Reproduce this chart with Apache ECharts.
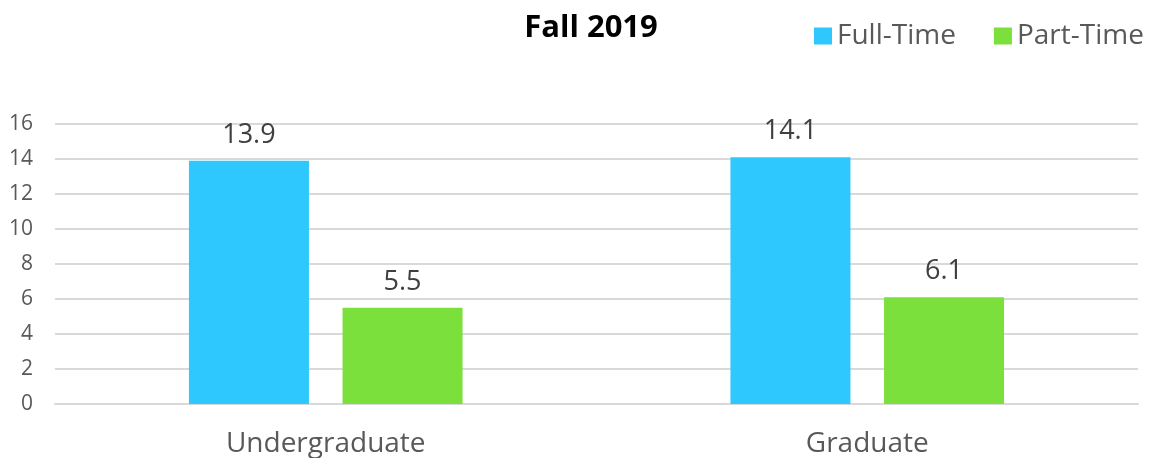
<!DOCTYPE html>
<html>
<head>
<meta charset="utf-8">
<script src="https://cdn.jsdelivr.net/npm/echarts@6/dist/echarts.min.js"></script>
<style>
  html, body { margin: 0; padding: 0; background: #fff; }
  #chart { width: 1152px; height: 458px; }
</style>
</head>
<body>
<div id="chart"></div>
<script>
// data
var categories = ['Undergraduate', 'Graduate']
var fullTime = [13.9, 14.1]
var partTime = [5.5, 6.1]
var yTicks = { min: 0, max: 16, interval: 2 }

var font = '"Open Sans", "Noto Sans", sans-serif'

var chart = echarts.init(document.getElementById('chart'))
chart.setOption({
  color: ['#2ec8fe', '#7bdf3c'],
  textStyle: { fontFamily: font },
  title: {
    text: 'Fall 2019',
    left: 586,
    top: 8,
    textAlign: 'center',
    textStyle: { fontSize: 31, fontWeight: 'bold', color: '#000', fontFamily: font }
  },
  legend: {
    left: 814,
    top: 22,
    width: 338,
    padding: 0,
    itemWidth: 18,
    itemHeight: 17,
    itemGap: 38,
    icon: 'rect',
    textStyle: { fontSize: 28, color: '#595959', fontFamily: font },
    data: ['Full-Time', 'Part-Time']
  },
  grid: { left: 55, right: 14, top: 124, bottom: 54 },
  xAxis: {
    type: 'category',
    data: categories,
    axisLine: { lineStyle: { color: '#d9d9d9', width: 2 } },
    axisTick: { show: false },
    axisLabel: { fontSize: 28, color: '#595959', margin: 26, fontFamily: font }
  },
  yAxis: {
    type: 'value',
    min: yTicks.min,
    max: yTicks.max,
    interval: yTicks.interval,
    axisLine: { show: false },
    axisTick: { show: false },
    axisLabel: { fontSize: 21, color: '#595959', margin: 22, fontFamily: font },
    splitLine: { lineStyle: { color: '#d9d9d9', width: 2 } }
  },
  series: [
    {
      name: 'Full-Time',
      type: 'bar',
      data: fullTime,
      barWidth: 120,
      barGap: '28%',
      label: { show: true, position: 'top', distance: 12, fontSize: 27, color: '#404040', fontFamily: font }
    },
    {
      name: 'Part-Time',
      type: 'bar',
      data: partTime,
      barWidth: 120,
      label: { show: true, position: 'top', distance: 12, fontSize: 27, color: '#404040', fontFamily: font }
    }
  ],
  animation: false
})
</script>
</body>
</html>
